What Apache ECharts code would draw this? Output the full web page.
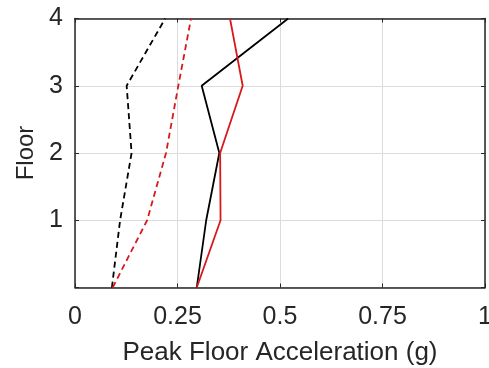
<!DOCTYPE html>
<html>
<head>
<meta charset="utf-8">
<script src="https://cdn.jsdelivr.net/npm/echarts@6/dist/echarts.min.js"></script>
<style>html,body{margin:0;padding:0;background:#fff;}#c{width:489px;height:368px;}</style>
</head>
<body>
<div id="c"></div>
<script>
const floors = [0, 1, 2, 3, 4];
const blackDashed = [0.09, 0.11, 0.138, 0.126, 0.22];
const redDashed = [0.092, 0.176, 0.222, 0.252, 0.283];
const blackSolid = [0.297, 0.32, 0.352, 0.309, 0.52];
const redSolid = [0.297, 0.355, 0.354, 0.409, 0.378];
const xTicks = [0, 0.25, 0.5, 0.75, 1];
const yTicks = [0, 1, 2, 3, 4];

const pairs = arr => arr.map((v, i) => [v, floors[i]]);
const font = 'Liberation Sans, Arial, sans-serif';
const txt = '#262626';

const chart = echarts.init(document.getElementById('c'), null, {renderer: 'canvas'});
const mk = (name, data, color, type) => ({
  name, type: 'line', data: pairs(data), symbol: 'none',
  lineStyle: {color, width: 1.8, type: type === 'dashed' ? [6, 4] : 'solid'},
  z: 5
});
chart.setOption({
  animation: false,
  backgroundColor: '#fff',
  grid: {left: 75, right: 4, top: 18.5, bottom: 80.5, containLabel: false, outerBoundsMode: 'none'},
  xAxis: [{
    type: 'value', min: 0, max: 1, interval: 0.25, position: 'bottom',
    name: 'Peak Floor Acceleration (g)', nameLocation: 'middle', nameGap: 52,
    nameTextStyle: {fontSize: 26, color: txt, fontFamily: font},
    axisLine: {show: true, onZero: false, lineStyle: {color: txt, width: 1.5}},
    axisTick: {show: true, inside: true, length: 4, lineStyle: {color: txt}},
    axisLabel: {fontSize: 25, color: txt, fontFamily: font, margin: 17,
      formatter: v => String(xTicks.find(t => Math.abs(t - v) < 1e-9) ?? v)},
    splitLine: {show: true, lineStyle: {color: '#dcdcdc', width: 1}}
  }, {
    type: 'value', min: 0, max: 1, interval: 0.25, position: 'top',
    axisLine: {show: true, onZero: false, lineStyle: {color: txt, width: 1.5}},
    axisTick: {show: true, inside: true, length: 4, lineStyle: {color: txt}},
    axisLabel: {show: false}, splitLine: {show: false}
  }],
  yAxis: [{
    type: 'value', min: 0, max: 4, interval: 1, position: 'left',
    name: 'Floor', nameLocation: 'middle', nameGap: 36,
    nameTextStyle: {fontSize: 24, color: txt, fontFamily: font},
    axisLine: {show: true, onZero: false, lineStyle: {color: txt, width: 1.5}},
    axisTick: {show: true, inside: true, length: 4, lineStyle: {color: txt}},
    axisLabel: {fontSize: 25, color: txt, fontFamily: font, margin: 12,
      formatter: v => (v === 0 ? '' : String(yTicks.find(t => t === v) ?? v))},
    splitLine: {show: true, lineStyle: {color: '#dcdcdc', width: 1}}
  }, {
    type: 'value', min: 0, max: 4, interval: 1, position: 'right',
    axisLine: {show: true, onZero: false, lineStyle: {color: txt, width: 1.5}},
    axisTick: {show: true, inside: true, length: 4, lineStyle: {color: txt}},
    axisLabel: {show: false}, splitLine: {show: false}
  }],
  series: [
    mk('Black dashed', blackDashed, '#000000', 'dashed'),
    mk('Red dashed', redDashed, '#d7191c', 'dashed'),
    mk('Black solid', blackSolid, '#000000', 'solid'),
    mk('Red solid', redSolid, '#d7191c', 'solid')
  ]
});
</script>
</body>
</html>
